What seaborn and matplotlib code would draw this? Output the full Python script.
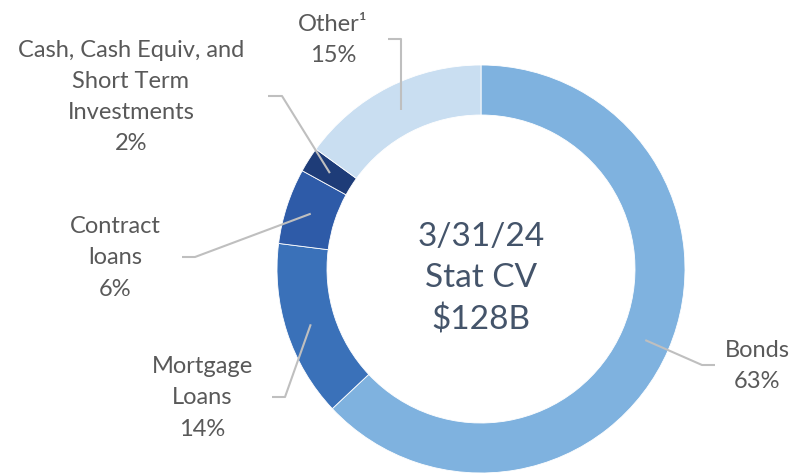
import numpy as np
import matplotlib
matplotlib.use("Agg")
import matplotlib.pyplot as plt
import seaborn as sns

# data
labels = ["Bonds", "Mortgage\nLoans", "Contract\nloans",
          "Cash, Cash Equiv, and\nShort Term\nInvestments", "Other\u00b9"]
shares = [63, 14, 6, 2, 15]
colors = ["#7FB2DF", "#3A71B9", "#2E5BA8", "#1E3C78", "#C9DEF1"]
center_text = "3/31/24\nStat CV\n$128B"

sns.set_theme(style="white")
plt.rcParams["font.family"] = ["Lato", "DejaVu Sans"]

W, H = 795, 476
fig = plt.figure(figsize=(W / 100, H / 100), dpi=100)
ax = fig.add_axes([0, 0, 1, 1])

# donut geometry in pixel units (y measured from bottom)
cx, cy = 481, H - 269
r_out, width = 204, 50

wedges, _ = ax.pie(shares, colors=colors, startangle=90, counterclock=False,
                   center=(cx, cy), radius=r_out, frame=True,
                   wedgeprops=dict(width=width, edgecolor="white", linewidth=0.6))
ax.set_xlim(0, W)
ax.set_ylim(0, H)
ax.set_aspect("equal")
ax.axis("off")

ax.text(cx, cy - 10, center_text, ha="center", va="center", fontsize=24,
        color="#44546A", linespacing=1.45)

# label layout: text centre, elbow start, elbow end (pixel coords, y down)
layout = [
    ((757, 366), (715, 365), (702, 365)),
    ((202, 398), (272, 397), (285, 397)),
    ((115, 258), (182, 257), (195, 257)),
    ((131, 97), (268, 96), (282, 96)),
    ((333, 40), (388, 39), (401, 39)),
]

r_mid = r_out - width / 2
for w, lab, s, (tpos, p0, p1) in zip(wedges, labels, shares, layout):
    ang = np.deg2rad((w.theta1 + w.theta2) / 2)
    ex, ey = cx + r_mid * np.cos(ang), cy + r_mid * np.sin(ang)
    if lab.startswith("Other"):
        ex = p1[0]
    ax.plot([p0[0], p1[0], ex], [H - p0[1], H - p1[1], ey],
            color="#BFBFBF", lw=1.5, solid_capstyle="butt")
    ax.text(tpos[0], H - tpos[1], f"{lab}\n{s}%", ha="center", va="center",
            fontsize=17, color="#595959", linespacing=1.6)

fig.savefig("out.png", dpi=100)
